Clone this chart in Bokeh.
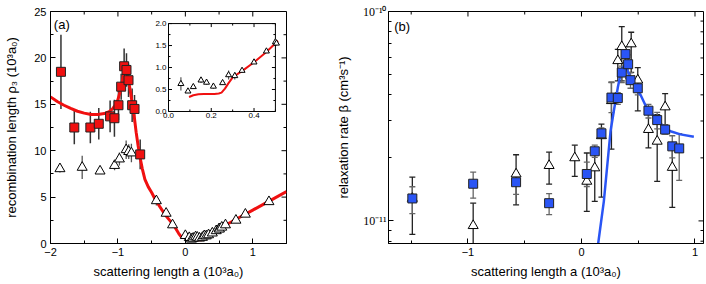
import math
from bokeh.plotting import figure
from bokeh.models import (Range1d, FixedTicker, Whisker, TeeHead,
                          ColumnDataSource, CustomJSTickFormatter, Label)
from bokeh.layouts import row
from bokeh.embed import file_html
from bokeh.resources import INLINE
from bokeh.core.properties import value

SANS = "Liberation Sans"
SERIF = "Liberation Serif"

# ---------------- panel (a) data ----------------
a_xticks = [-2, -1, 0, 1]
a_xminor = [-1.5, -0.5, 0.5, 1.5]
a_yticks = [0, 5, 10, 15, 20, 25]
a_yminor = [2.5, 7.5, 12.5, 17.5, 22.5]

sq_x = [-1.845, -1.647, -1.409, -1.284, -1.116, -1.052, -0.992, -0.952, -0.908, -0.873, -0.843, -0.789, -0.754, -0.670]
sq_y = [18.5, 12.5, 12.5, 12.9, 13.7, 13.5, 14.9, 16.9, 19.1, 18.7, 17.6, 14.9, 14.5, 9.6]
sq_err = [4.0, 1.8, 1.7, 1.7, 1.7, 2.0, 1.6, 1.4, 1.9, 1.8, 1.8, 1.8, 1.5, 1.6]

tri_left_x = [-1.86, -1.53, -1.265, -1.05, -0.978, -0.878, -0.84, -0.80, -0.43, -0.285, -0.19, 0.0]
tri_left_y = [8.05, 8.2, 7.8, 8.4, 9.1, 10.1, 9.9, 9.75, 4.6, 3.25, 2.0, 0.85]
tri_left_err = [0.4, 1.25, 0.3, 0.5, 0.7, 1.0, 0.8, 1.0, 0.5, 0.3, 0.3, 0.2]

tri_right_x = [0.54, 0.595, 0.75, 0.89, 1.24]
tri_right_y = [1.75, 2.0, 2.5, 3.15, 4.5]
tri_right_err = [0.1, 0.2, 0.2, 0.3, 0.3]

# inset data (also the cluster of open triangles near a = 0 in the main plot)
ins_xticks = [0.0, 0.2, 0.4]
ins_xminor = [0.1, 0.3, 0.5]
ins_yticks = [0.0, 0.5, 1.0, 1.5, 2.0]
ins_yminor = [0.25, 0.75, 1.25, 1.75]
ins_x = [0.058, 0.091, 0.116, 0.152, 0.178, 0.21, 0.253, 0.281, 0.31, 0.344, 0.40, 0.458, 0.50, 0.505]
ins_y = [0.63, 0.46, 0.56, 0.71, 0.66, 0.57, 0.65, 0.83, 0.81, 0.93, 1.12, 1.37, 1.58, 1.55]
ins_err = [0.15, 0.04, 0.05, 0.06, 0.05, 0.05, 0.05, 0.10, 0.08, 0.05, 0.04, 0.04, 0.06, 0.05]

ic_x = [0.096, 0.116, 0.14, 0.165, 0.19, 0.215, 0.235, 0.248, 0.264, 0.28, 0.301, 0.347, 0.40, 0.455, 0.504, 0.512]
ic_y = [0.33, 0.37, 0.39, 0.40, 0.40, 0.40, 0.41, 0.43, 0.52, 0.64, 0.78, 0.93, 1.12, 1.34, 1.57, 1.61]

lc_x = [-2.0, -1.9, -1.8, -1.7, -1.6, -1.5, -1.4, -1.3, -1.2, -1.13, -1.08, -1.04, -1.0, -0.97, -0.94,
        -0.91, -0.89, -0.87, -0.85, -0.82, -0.79, -0.76, -0.73, -0.70, -0.67, -0.64, -0.60, -0.55,
        -0.50, -0.45, -0.40, -0.35, -0.30, -0.25, -0.20, -0.15, -0.10, -0.05]
lc_y = [15.8, 15.3, 14.9, 14.55, 14.25, 14.05, 13.9, 13.9, 14.0, 14.2, 14.5, 14.9, 15.5, 16.3, 17.3,
        18.5, 19.0, 18.7, 17.9, 16.6, 15.2, 13.8, 12.0, 10.5, 9.2, 8.1, 6.9, 6.1,
        5.5, 4.8, 4.2, 3.65, 3.1, 2.65, 2.2, 1.7, 1.1, 0.6]
rc_x = [0.6, 0.8, 1.0, 1.25, 1.5]
rc_y = [2.0, 2.8, 3.6, 4.6, 5.6]

# ---------------- panel (b) data ----------------
b_xticks = [-1, 0, 1]
b_xminor = [-1.5, -0.5, 0.5]
b_yticks = [1e-11, 1e-10]
b_ylabels = ["10\u207b\u00b9\u00b9", "10\u207b\u00b9\u2070"]
b_yminor = [8e-12, 9e-12, 2e-11, 3e-11, 4e-11, 5e-11, 6e-11, 7e-11, 8e-11, 9e-11]

bsq_x = [-1.49, -0.954, -0.576, -0.285, 0.047, 0.117, 0.176, 0.264, 0.32, 0.355, 0.388, 0.411, 0.432, 0.496, 0.59, 0.667, 0.737, 0.80, 0.861]
bsq_y = [1.28e-11, 1.505e-11, 1.53e-11, 1.215e-11, 1.675e-11, 2.15e-11, 2.62e-11, 3.88e-11, 3.86e-11, 5.11e-11, 6.26e-11, 5.6e-11, 4.7e-11, 4.3e-11, 3.36e-11, 3.03e-11, 2.73e-11, 2.27e-11, 2.22e-11]
bsq_lo = [1.084e-11, 1.284e-11, 1.34e-11, 1.072e-11, 1.46e-11, 2.01e-11, 2.48e-11, 3.29e-11, 3.6e-11, 4.58e-11, 5.7e-11, 4.8e-11, 4.3e-11, 4.0e-11, 3.1e-11, 2.75e-11, 2.6e-11, 2.0e-11, 1.56e-11]
bsq_hi = [1.456e-11, 1.71e-11, 1.70e-11, 1.349e-11, 1.91e-11, 2.30e-11, 2.78e-11, 4.58e-11, 4.1e-11, 5.49e-11, 6.8e-11, 6.2e-11, 5.1e-11, 4.6e-11, 3.6e-11, 3.3e-11, 2.88e-11, 2.55e-11, 2.61e-11]

btr_x = [-1.49, -0.954, -0.576, -0.285, -0.059, 0.047, 0.117, 0.176, 0.264, 0.32, 0.355, 0.438, 0.496, 0.59, 0.667, 0.737, 0.80]
btr_y = [1.28e-11, 9.49e-12, 1.674e-11, 1.837e-11, 2.0e-11, 1.545e-11, 1.79e-11, 2.55e-11, 3.75e-11, 5.82e-11, 6.79e-11, 7.0e-11, 4.7e-11, 2.73e-11, 2.40e-11, 3.5e-11, 1.8e-11]
btr_lo = [8.63e-12, 7.0e-12, 1.193e-11, 1.5e-11, 1.63e-11, 1.11e-11, 1.24e-11, 1.3e-11, 2.2e-11, 4.66e-11, 4.66e-11, 5.12e-11, 3.35e-11, 2.23e-11, 1.545e-11, 2.8e-11, 1.16e-11]
btr_hi = [1.62e-11, 1.215e-11, 2.07e-11, 2.13e-11, 2.30e-11, 2.11e-11, 2.11e-11, 2.9e-11, 4.6e-11, 6.6e-11, 8.47e-11, 7.96e-11, 5.4e-11, 3.35e-11, 3.22e-11, 4.05e-11, 2.33e-11]

bc_x = [0.143, 0.197, 0.256, 0.285, 0.32, 0.344, 0.365, 0.379, 0.40, 0.432, 0.49, 0.52, 0.579, 0.667, 0.74, 0.784, 0.872, 0.99]
bc_y = [7.5e-12, 1.24e-11, 2.68e-11, 3.35e-11, 4.33e-11, 5.02e-11, 5.4e-11, 5.5e-11, 5.3e-11, 4.84e-11, 4.18e-11, 4.0e-11, 3.42e-11, 3.05e-11, 2.75e-11, 2.68e-11, 2.59e-11, 2.52e-11]

RED = "#f01010"
BLUE = "#2a55f5"
MAJ, MIN = 5, 3


def style_axis(ax, ticks, minor, font=SANS, size="11px"):
    ax.ticker = FixedTicker(ticks=ticks, minor_ticks=minor)
    ax.axis_line_color = "black"
    ax.major_tick_in = MAJ
    ax.major_tick_out = 0
    ax.minor_tick_in = MIN
    ax.minor_tick_out = 0
    ax.major_tick_line_color = "black"
    ax.minor_tick_line_color = "black"
    ax.major_label_text_font = font
    ax.major_label_text_font_size = size
    ax.major_label_text_color = "black"
    ax.major_label_standoff = 4
    ax.axis_label_text_font = SANS
    ax.axis_label_text_font_size = "13px"
    ax.axis_label_text_font_style = "normal"
    ax.axis_label_text_color = "black"


def frac_range(d0, d1, f0, f1):
    k = (d1 - d0) / (f1 - f0)
    return Range1d(d0 - f0 * k, d1 + (1 - f1) * k)


def mirror_ticks(p, xr, yr, xt, xm, yt, ym, fw, fh, ylog=False, **kw):
    """Inward tick marks on the top and right edges of a frame."""
    kx = (xr.end - xr.start) / fw
    if ylog:
        ppd = fh / (math.log10(yr.end) - math.log10(yr.start))
        def ydown(y, L): return y / 10 ** (L / ppd)
    else:
        ky = (yr.end - yr.start) / fh
        def ydown(y, L): return y - L * ky
    for vals, L in ((xt, MAJ), (xm, MIN)):
        p.segment(x0=vals, x1=vals, y0=[yr.end] * len(vals), y1=[ydown(yr.end, L)] * len(vals),
                  line_color="black", line_width=1, **kw)
    for vals, L in ((yt, MAJ), (ym, MIN)):
        p.segment(x0=[xr.end] * len(vals), x1=[xr.end - L * kx] * len(vals), y0=vals, y1=vals,
                  line_color="black", line_width=1, **kw)


# ======================= panel (a) =======================
W1, H = 330, 283
BL1, BR1, BT, BB = 50, 44, 11, 40
FW1, FH = W1 - BL1 - BR1, H - BT - BB
xr1, yr1 = Range1d(-2, 1.5), Range1d(0, 25)
p1 = figure(width=W1, height=H, x_range=xr1, y_range=yr1,
            output_backend="svg", toolbar_location=None,
            min_border_left=BL1, min_border_right=BR1, min_border_top=BT, min_border_bottom=BB)
p1.grid.visible = False
p1.outline_line_color = "black"
style_axis(p1.xaxis[0], a_xticks, a_xminor)
style_axis(p1.yaxis[0], a_yticks, a_yminor)
p1.xaxis[0].axis_label = "scattering length a (10\u00b3a\u2080)"
p1.xaxis[0].axis_label_standoff = 5
p1.yaxis[0].axis_label = "recombination length \u03c1\u2083 (10\u00b3a\u2080)"
p1.yaxis[0].axis_label_standoff = 12
mirror_ticks(p1, xr1, yr1, a_xticks, a_xminor, a_yticks, a_yminor, FW1, FH)

# error bars
tri_all_x = tri_left_x + ins_x + tri_right_x
tri_all_y = tri_left_y + ins_y + tri_right_y
tri_all_e = tri_left_err + ins_err + tri_right_err
p1.segment(x0=tri_all_x, x1=tri_all_x,
           y0=[y - e for y, e in zip(tri_all_y, tri_all_e)],
           y1=[y + e for y, e in zip(tri_all_y, tri_all_e)],
           line_color="#555555", line_width=1.3)
p1.segment(x0=sq_x, x1=sq_x,
           y0=[y - e for y, e in zip(sq_y, sq_err)],
           y1=[y + e for y, e in zip(sq_y, sq_err)],
           line_color="#333333", line_width=1.5)
# theory curve
p1.line(lc_x, lc_y, line_color=RED, line_width=3)
p1.line(ic_x + rc_x, ic_y + rc_y, line_color=RED, line_width=3)
p1.scatter(tri_all_x, tri_all_y, marker="triangle", size=10, fill_color="white",
           line_color="black", line_width=1)
p1.scatter(sq_x, sq_y, marker="square", size=9, fill_color=RED, line_color="#222222", line_width=1)
p1.add_layout(Label(x=-1.95, y=24.4, text="(a)", text_baseline="top", text_font=SANS,
                    text_font_size="13px", text_color="black"))

# ---- inset ----
ins_xlim = (ins_xticks[0], ins_xminor[-1])
ins_ylim = (ins_yticks[0], ins_yticks[-1])
FX = (0.500, 0.953)
FY = (0.569, 0.948)
p1.extra_x_ranges = {"ix": frac_range(ins_xlim[0], ins_xlim[1], *FX)}
p1.extra_y_ranges = {"iy": frac_range(ins_ylim[0], ins_ylim[1], *FY)}
kx = (p1.extra_x_ranges["ix"].end - p1.extra_x_ranges["ix"].start) / FW1
ky = (p1.extra_y_ranges["iy"].end - p1.extra_y_ranges["iy"].start) / FH
I = dict(x_range_name="ix", y_range_name="iy")
p1.quad(left=[ins_xlim[0]], right=[ins_xlim[1]], bottom=[ins_ylim[0]], top=[ins_ylim[1]],
        fill_color="white", line_color="black", line_width=1, **I)
for vals, L in ((ins_xticks, 3.5), (ins_xminor, 2)):
    p1.segment(x0=vals, x1=vals, y0=[ins_ylim[0]] * len(vals), y1=[ins_ylim[0] + L * ky] * len(vals),
               line_color="black", line_width=1, **I)
    p1.segment(x0=vals, x1=vals, y0=[ins_ylim[1]] * len(vals), y1=[ins_ylim[1] - L * ky] * len(vals),
               line_color="black", line_width=1, **I)
for vals, L in ((ins_yticks, 3.5), (ins_yminor, 2)):
    p1.segment(x0=[ins_xlim[0]] * len(vals), x1=[ins_xlim[0] + L * kx] * len(vals), y0=vals, y1=vals,
               line_color="black", line_width=1, **I)
    p1.segment(x0=[ins_xlim[1]] * len(vals), x1=[ins_xlim[1] - L * kx] * len(vals), y0=vals, y1=vals,
               line_color="black", line_width=1, **I)
p1.text(x=ins_xticks, y=[ins_ylim[0]] * len(ins_xticks), text=[f"{v:.1f}" for v in ins_xticks],
        text_align="center", text_baseline="top", y_offset=2, text_font=value(SANS),
        text_font_size="8px", text_color="black", **I)
p1.text(x=[ins_xlim[0]] * len(ins_yticks), y=ins_yticks, text=[f"{v:.1f}" for v in ins_yticks],
        text_align="right", text_baseline="middle", x_offset=-2, text_font=value(SANS),
        text_font_size="8px", text_color="black", **I)
p1.segment(x0=ins_x, x1=ins_x, y0=[y - e for y, e in zip(ins_y, ins_err)],
           y1=[y + e for y, e in zip(ins_y, ins_err)], line_color="#555555", line_width=1.2, **I)
p1.line(ic_x, ic_y, line_color=RED, line_width=2, **I)
p1.scatter(ins_x, ins_y, marker="triangle", size=6, fill_color="white", line_color="black",
           line_width=1, **I)

# ======================= panel (b) =======================
W2 = 376
BL2, BR2 = 58, 3
FW2 = W2 - BL2 - BR2
xr2, yr2 = Range1d(-1.70, 1.075), Range1d(7.8e-12, 1e-10)
p2 = figure(width=W2, height=H, x_range=xr2, y_range=yr2,
            y_axis_type="log", output_backend="svg", toolbar_location=None,
            min_border_left=BL2, min_border_right=BR2, min_border_top=BT, min_border_bottom=BB)
p2.grid.visible = False
p2.outline_line_color = "black"
style_axis(p2.xaxis[0], b_xticks, b_xminor)
style_axis(p2.yaxis[0], b_yticks, b_yminor, font=SERIF, size="12px")
p2.yaxis[0].major_label_standoff = 2
p2.yaxis[0].formatter = CustomJSTickFormatter(
    args=dict(vals=b_yticks, labs=b_ylabels),
    code="const i = vals.findIndex(v => Math.abs(Math.log10(v) - Math.log10(tick)) < 1e-6);"
         "return i >= 0 ? labs[i] : '';")
p2.xaxis[0].axis_label = "scattering length a (10\u00b3a\u2080)"
p2.xaxis[0].axis_label_standoff = 5
p2.yaxis[0].axis_label = "relaxation rate \u03b2 (cm\u00b3s\u207b\u00b9)"
p2.yaxis[0].axis_label_standoff = 9
mirror_ticks(p2, xr2, yr2, b_xticks, b_xminor, b_yticks, b_yminor, FW2, FH, ylog=True)

tri_src = ColumnDataSource(dict(x=btr_x, y=btr_y, lo=btr_lo, hi=btr_hi))
sq_src = ColumnDataSource(dict(x=bsq_x, y=bsq_y, lo=bsq_lo, hi=bsq_hi))
p2.line(bc_x, bc_y, line_color=BLUE, line_width=2.5)
for src, col in ((tri_src, "#222222"), (sq_src, "#666666")):
    p2.add_layout(Whisker(source=src, base="x", upper="hi", lower="lo", line_color=col,
                          line_width=1.3,
                          upper_head=TeeHead(size=6, line_color=col, line_width=1.3),
                          lower_head=TeeHead(size=6, line_color=col, line_width=1.3)))
p2.scatter("x", "y", source=tri_src, marker="triangle", size=10, fill_color="white",
           line_color="black", line_width=1)
p2.scatter("x", "y", source=sq_src, marker="square", size=9, fill_color=BLUE,
           line_color="#222222", line_width=1)
p2.add_layout(Label(x=-1.65, y=9.2e-11, text="(b)", text_baseline="top", text_font=SANS,
                    text_font_size="13px", text_color="black"))

layout = row(p1, p2)
open("out.html", "w").write(file_html(layout, INLINE))
